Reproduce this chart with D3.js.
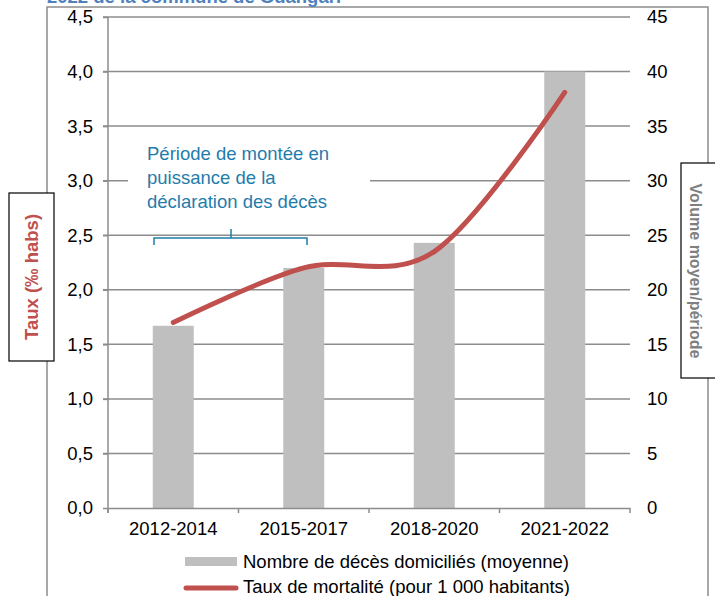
<!DOCTYPE html>
<html>
<head>
<meta charset="utf-8">
<script src="https://cdn.jsdelivr.net/npm/d3@7"></script>
<style>
  body { margin: 0; background: #fff; }
  svg { display: block; font-family: "Liberation Sans", Arial, sans-serif; }
</style>
</head>
<body>
<svg id="chart" width="715" height="596"></svg>
<script>
const categories = ["2012-2014", "2015-2017", "2018-2020", "2021-2022"];
const deathsVolume = [16.7, 22.0, 24.3, 40.0];       // right axis (bars)
const mortalityRate = [1.70, 2.20, 2.35, 3.81];      // left axis (line)
const leftTicks = [0, 0.5, 1, 1.5, 2, 2.5, 3, 3.5, 4, 4.5];
const rightTicks = [0, 5, 10, 15, 20, 25, 30, 35, 40, 45];
const titleText = "2022 de la commune de Guangari";
const leftAxisTitle = "Taux (‰ habs)";
const rightAxisTitle = "Volume moyen/période";
const annotationLines = ["Période de montée en", "puissance de la", "déclaration des décès"];
const legendLabels = ["Nombre de décès domiciliés (moyenne)", "Taux de mortalité (pour 1 000 habitants)"];

const svg = d3.select("#chart");
const FS = 18.5;
const gridColor = "#8c8c8c";
const barColor = "#bfbfbf";
const lineColor = "#c0504d";
const annColor = "#1f7cab";

const plotL = 108, plotR = 630, plotT = 17, plotB = 508;

// frame
svg.append("rect").attr("x", 47).attr("y", 7).attr("width", 661).attr("height", 620)
  .attr("fill", "none").attr("stroke", gridColor).attr("stroke-width", 1.5);

// clipped title
svg.append("text").attr("x", 47).attr("y", 3).attr("fill", "#4f81bd")
  .attr("font-weight", "bold").attr("font-size", FS).text(titleText);

const x = d3.scaleBand().domain(categories).range([plotL, plotR])
  .paddingInner(0.686).paddingOuter(0.343);
const yL = d3.scaleLinear().domain([0, 4.5]).range([plotB, plotT]);
const yR = d3.scaleLinear().domain([0, 45]).range([plotB, plotT]);
const fmtL = d => d3.format(".1f")(d).replace(".", ",");

// gridlines
svg.append("g").selectAll("line").data(leftTicks.filter(d => d > 0)).join("line")
  .attr("x1", plotL - 5).attr("x2", plotR)
  .attr("y1", d => yL(d)).attr("y2", d => yL(d))
  .attr("stroke", gridColor).attr("stroke-width", 1.5);

// bars
svg.append("g").selectAll("rect").data(categories).join("rect")
  .attr("x", d => x(d)).attr("width", x.bandwidth())
  .attr("y", (d, i) => yR(deathsVolume[i]))
  .attr("height", (d, i) => plotB - yR(deathsVolume[i]))
  .attr("fill", barColor);

// left axis
const gL = svg.append("g").attr("transform", `translate(${plotL},0)`)
  .call(d3.axisLeft(yL).tickValues(leftTicks).tickFormat(fmtL).tickSize(5).tickSizeOuter(0).tickPadding(10));
gL.select(".domain").remove();
gL.selectAll(".tick line").attr("stroke", gridColor).attr("stroke-width", 1.5);
gL.selectAll("text").attr("font-size", FS).attr("fill", "#000").attr("font-family", "Liberation Sans, Arial, sans-serif");
svg.append("line").attr("x1", plotL).attr("x2", plotL).attr("y1", plotT).attr("y2", plotB + 5)
  .attr("stroke", gridColor).attr("stroke-width", 1.5);

// right axis
const gR = svg.append("g").attr("transform", `translate(${plotR},0)`)
  .call(d3.axisRight(yR).tickValues(rightTicks).tickSize(0).tickPadding(17));
gR.select(".domain").remove();
gR.selectAll("text").attr("font-size", FS).attr("fill", "#000").attr("font-family", "Liberation Sans, Arial, sans-serif");

// bottom axis
const gB = svg.append("g").attr("transform", `translate(0,${plotB})`)
  .call(d3.axisBottom(x).tickSize(0).tickPadding(14));
gB.select(".domain").attr("stroke", gridColor).attr("stroke-width", 1.5);
gB.selectAll("text").attr("font-size", FS).attr("fill", "#000").attr("font-family", "Liberation Sans, Arial, sans-serif");
const halfGap = (x.step() - x.bandwidth()) / 2;
const bounds = categories.map(c => x(c) - halfGap).concat([x(categories[categories.length - 1]) + x.bandwidth() + halfGap]);
svg.append("g").selectAll("line").data(bounds).join("line")
  .attr("x1", d => d).attr("x2", d => d).attr("y1", plotB).attr("y2", plotB + 5)
  .attr("stroke", gridColor).attr("stroke-width", 1.5);

// line
const line = d3.line()
  .x((d, i) => x(categories[i]) + x.bandwidth() / 2)
  .y(d => yL(d))
  .curve(d3.curveCardinal.tension(0));
svg.append("path").datum(mortalityRate).attr("d", line)
  .attr("fill", "none").attr("stroke", lineColor).attr("stroke-width", 5)
  .attr("stroke-linecap", "round").attr("stroke-linejoin", "round");

// annotation
svg.append("rect").attr("x", 128).attr("y", 140).attr("width", 242).attr("height", 75).attr("fill", "#fff");
const ann = svg.append("text").attr("fill", annColor).attr("font-size", FS);
annotationLines.forEach((t, i) => ann.append("tspan").attr("x", 147).attr("y", 160 + i * 24).text(t));
svg.append("path")
  .attr("d", "M154,245 L154,238 L307,238 L307,245 M231,238 L231,229")
  .attr("fill", "none").attr("stroke", annColor).attr("stroke-width", 1.5);

// axis title boxes
svg.append("rect").attr("x", 9).attr("y", 193).attr("width", 45).attr("height", 168)
  .attr("fill", "#fff").attr("stroke", "#000").attr("stroke-width", 1.2);
svg.append("text").attr("transform", "translate(38,277) rotate(-90)")
  .attr("text-anchor", "middle").attr("font-weight", "bold").attr("font-size", FS)
  .attr("fill", lineColor).text(leftAxisTitle);
svg.append("rect").attr("x", 681).attr("y", 163).attr("width", 50).attr("height", 215)
  .attr("fill", "#fff").attr("stroke", "#000").attr("stroke-width", 1.2);
svg.append("text").attr("transform", "translate(690,271) rotate(90)")
  .attr("text-anchor", "middle").attr("font-weight", "bold").attr("font-size", 16)
  .attr("fill", "#7f7f7f").text(rightAxisTitle);

// legend
svg.append("rect").attr("x", 185).attr("y", 557).attr("width", 52).attr("height", 9).attr("fill", barColor);
svg.append("text").attr("x", 243).attr("y", 568).attr("font-size", FS).attr("fill", "#000").text(legendLabels[0]);
svg.append("line").attr("x1", 186).attr("x2", 236).attr("y1", 588).attr("y2", 588)
  .attr("stroke", lineColor).attr("stroke-width", 5).attr("stroke-linecap", "round");
svg.append("text").attr("x", 243).attr("y", 593).attr("font-size", FS).attr("fill", "#000").text(legendLabels[1]);
</script>
</body>
</html>
